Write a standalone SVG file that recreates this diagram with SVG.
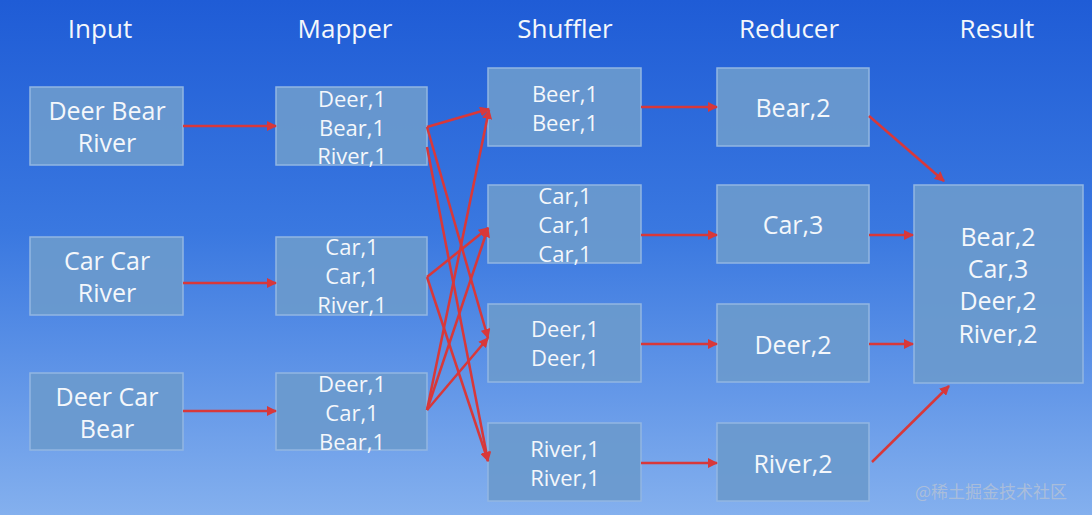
<svg xmlns="http://www.w3.org/2000/svg" width="1092" height="515" viewBox="0 0 1092 515">
<defs>
<linearGradient id="bg" x1="0" y1="0" x2="0" y2="1">
<stop offset="0" stop-color="#1f5cd6"/>
<stop offset="0.45" stop-color="#3a78e0"/>
<stop offset="1" stop-color="#84b0ee"/>
</linearGradient>
<marker id="ah" viewBox="0 0 10 10" refX="9" refY="5" markerWidth="4" markerHeight="4" orient="auto" markerUnits="strokeWidth">
<path d="M0,0 L10,5 L0,10 z" fill="#d8383a"/>
</marker>
<style>
.box{fill:#6a9acd;fill-opacity:0.93;stroke:#92b6e2;stroke-width:1.5}
text{font-family:"Open Sans","Noto Sans","DejaVu Sans",sans-serif;fill:#f4f7fb;text-anchor:middle;dominant-baseline:central}
.h{font-size:26px}
.t{font-size:25px}
.s{font-size:22px}
.c line{stroke:#d8383a;stroke-width:2.5;marker-end:url(#ah)}
.wm{font-family:"Noto Sans CJK SC",sans-serif;font-size:17px;fill:#b0c0d8;fill-opacity:0.9;text-anchor:start}
</style>
</defs>
<rect width="1092" height="515" fill="url(#bg)"/>
<g id="headers">
<text class="h" x="100" y="28">Input</text>
<text class="h" x="345" y="28">Mapper</text>
<text class="h" x="565" y="28">Shuffler</text>
<text class="h" x="789" y="28">Reducer</text>
<text class="h" x="997" y="28">Result</text>
</g>
<g id="input1"><rect class="box" x="30" y="87" width="153" height="78"/><text class="t" x="107" y="110">Deer Bear</text><text class="t" x="107" y="142">River</text></g>
<g id="input2"><rect class="box" x="30" y="237" width="153" height="78"/><text class="t" x="107" y="260">Car Car</text><text class="t" x="107" y="292">River</text></g>
<g id="input3"><rect class="box" x="30" y="373" width="153" height="77"/><text class="t" x="107" y="396">Deer Car</text><text class="t" x="107" y="428">Bear</text></g>
<g id="mapper1"><rect class="box" x="276" y="87" width="151" height="78"/><text class="s" x="352" y="98">Deer,1</text><text class="s" x="352" y="127">Bear,1</text><text class="s" x="352" y="155">River,1</text></g>
<g id="mapper2"><rect class="box" x="276" y="237" width="151" height="78"/><text class="s" x="352" y="246">Car,1</text><text class="s" x="352" y="275">Car,1</text><text class="s" x="352" y="304">River,1</text></g>
<g id="mapper3"><rect class="box" x="276" y="373" width="151" height="77"/><text class="s" x="352" y="383">Deer,1</text><text class="s" x="352" y="412">Car,1</text><text class="s" x="352" y="441">Bear,1</text></g>
<g id="shuffler1"><rect class="box" x="488" y="68" width="153" height="78"/><text class="s" x="565" y="93">Beer,1</text><text class="s" x="565" y="122">Beer,1</text></g>
<g id="shuffler2"><rect class="box" x="488" y="185" width="153" height="78"/><text class="s" x="565" y="195">Car,1</text><text class="s" x="565" y="224">Car,1</text><text class="s" x="565" y="253">Car,1</text></g>
<g id="shuffler3"><rect class="box" x="488" y="304" width="153" height="78"/><text class="s" x="565" y="328">Deer,1</text><text class="s" x="565" y="357">Deer,1</text></g>
<g id="shuffler4"><rect class="box" x="488" y="423" width="153" height="78"/><text class="s" x="565" y="448">River,1</text><text class="s" x="565" y="477">River,1</text></g>
<g id="reducer1"><rect class="box" x="717" y="68" width="152" height="78"/><text class="t" x="793" y="107">Bear,2</text></g>
<g id="reducer2"><rect class="box" x="717" y="185" width="152" height="78"/><text class="t" x="793" y="224">Car,3</text></g>
<g id="reducer3"><rect class="box" x="717" y="304" width="152" height="78"/><text class="t" x="793" y="344">Deer,2</text></g>
<g id="reducer4"><rect class="box" x="717" y="423" width="152" height="78"/><text class="t" x="793" y="463">River,2</text></g>
<g id="result"><rect class="box" x="914" y="185" width="169" height="198"/><text class="t" x="998" y="236">Bear,2</text><text class="t" x="998" y="268">Car,3</text><text class="t" x="998" y="300">Deer,2</text><text class="t" x="998" y="333">River,2</text></g>
<g id="connectors" class="c">
<line x1="183" y1="126" x2="276" y2="126"/>
<line x1="183" y1="283" x2="276" y2="283"/>
<line x1="183" y1="411" x2="276" y2="411"/>
<line x1="427" y1="127" x2="489" y2="109"/>
<line x1="427" y1="127" x2="488" y2="338"/>
<line x1="427" y1="147" x2="488" y2="461"/>
<line x1="427" y1="277" x2="488" y2="228"/>
<line x1="427" y1="277" x2="488" y2="461"/>
<line x1="427" y1="410" x2="489" y2="110"/>
<line x1="427" y1="410" x2="488" y2="228"/>
<line x1="427" y1="410" x2="488" y2="338"/>
<line x1="641" y1="107" x2="717" y2="107"/>
<line x1="641" y1="235" x2="717" y2="235"/>
<line x1="641" y1="344" x2="717" y2="344"/>
<line x1="641" y1="463" x2="717" y2="463"/>
<line x1="869" y1="116" x2="944" y2="181"/>
<line x1="869" y1="235" x2="913" y2="235"/>
<line x1="869" y1="344" x2="913" y2="344"/>
<line x1="872" y1="462" x2="949" y2="386"/>
</g>
<text class="wm" x="915" y="490">@稀土掘金技术社区</text>
</svg>
